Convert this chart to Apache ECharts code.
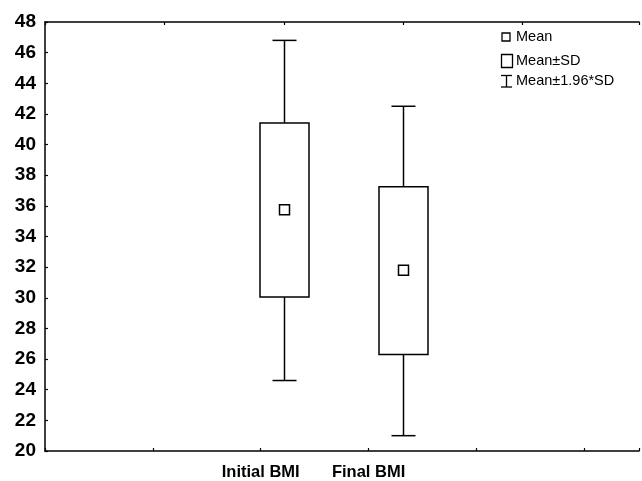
<!DOCTYPE html>
<html>
<head>
<meta charset="utf-8">
<script src="https://cdn.jsdelivr.net/npm/echarts@6/dist/echarts.min.js"></script>
<style>
html,body{margin:0;padding:0;background:#fff;}
#chart{width:642px;height:481px;}
</style>
</head>
<body>
<div id="chart"></div>
<script>
// ---- data ----
var categories = ['Initial BMI', 'Final BMI'];
var meanValues = [35.75, 31.8];
var sdLow = [30.05, 26.3];
var sdHigh = [41.4, 37.25];
var ciLow = [24.6, 21.0];
var ciHigh = [46.8, 42.5];
var yTicks = [20, 22, 24, 26, 28, 30, 32, 34, 36, 38, 40, 42, 44, 46, 48];
var bottomTickLabels = ['', '', 'Initial BMI', 'Final BMI', '', ''];
var legendLabels = ['Mean', 'Mean\u00b1SD', 'Mean\u00b11.96*SD'];

var FONT = '"Liberation Sans", Arial, sans-serif';
var boxData = categories.map(function (c, i) {
  return [i + 2, ciLow[i], sdLow[i], meanValues[i], sdHigh[i], ciHigh[i]];
});

var chart = echarts.init(document.getElementById('chart'), null, {renderer: 'canvas'});
var LW = 1.5;
var option = {
  backgroundColor: '#fff',
  animation: false,
  grid: {left: 45, right: 0, top: 22, bottom: 27, containLabel: false},
  xAxis: [
    {
      type: 'value', position: 'bottom', min: 0, max: 5.507, interval: 1,
      axisLine: {show: true, lineStyle: {color: '#000', width: LW}},
      axisTick: {show: true, inside: true, length: 3, lineStyle: {color: '#000', width: 1.2}},
      splitLine: {show: false},
      axisLabel: {
        show: true, margin: 13, color: '#000', fontSize: 16.5, fontWeight: 'bold', fontFamily: FONT,
        formatter: function (v) { var k = Math.round(v); return Math.abs(v - k) < 1e-6 ? (bottomTickLabels[k] || '') : ''; }
      }
    },
    {
      type: 'value', position: 'top', min: 0, max: 4.975, interval: 1,
      axisLine: {show: true, lineStyle: {color: '#000', width: LW}},
      axisTick: {show: true, inside: true, length: 3, lineStyle: {color: '#000', width: 1.2}},
      splitLine: {show: false},
      axisLabel: {show: false}
    }
  ],
  yAxis: {
    type: 'value', min: yTicks[0], max: yTicks[yTicks.length - 1], interval: 2,
    axisLine: {show: true, lineStyle: {color: '#000', width: LW}},
    axisTick: {show: true, inside: true, length: 3, lineStyle: {color: '#000', width: 1.2}},
    splitLine: {show: false},
    axisLabel: {margin: 9, color: '#000', fontSize: 19, fontWeight: 'bold', fontFamily: FONT}
  },
  series: [{
    type: 'custom',
    xAxisIndex: 1,
    yAxisIndex: 0,
    encode: {x: 0, y: [1, 2, 3, 4, 5]},
    data: boxData,
    renderItem: function (params, api) {
      var x = api.value(0);
      var pLo = api.coord([x, api.value(1)]);
      var pBL = api.coord([x, api.value(2)]);
      var pM = api.coord([x, api.value(3)]);
      var pBH = api.coord([x, api.value(4)]);
      var pHi = api.coord([x, api.value(5)]);
      var cx = Math.round(pM[0]) + 0.5;
      var hb = 24.5, hc = 12, hm = 5;
      var st = {stroke: '#000', lineWidth: LW, fill: null};
      return {
        type: 'group',
        children: [
          {type: 'line', shape: {x1: cx, y1: pHi[1], x2: cx, y2: pBH[1]}, style: st},
          {type: 'line', shape: {x1: cx - hc, y1: pHi[1], x2: cx + hc, y2: pHi[1]}, style: st},
          {type: 'line', shape: {x1: cx, y1: pBL[1], x2: cx, y2: pLo[1]}, style: st},
          {type: 'line', shape: {x1: cx - hc, y1: pLo[1], x2: cx + hc, y2: pLo[1]}, style: st},
          {type: 'rect', shape: {x: cx - hb, y: pBH[1], width: 2 * hb, height: pBL[1] - pBH[1]}, style: {stroke: '#000', lineWidth: LW, fill: 'rgba(0,0,0,0)'}},
          {type: 'rect', shape: {x: cx - hm, y: pM[1] - hm, width: 2 * hm, height: 2 * hm}, style: {stroke: '#000', lineWidth: LW, fill: '#fff'}}
        ]
      };
    }
  }],
  graphic: [
    {type: 'rect', shape: {x: 502, y: 33, width: 8, height: 8}, style: {stroke: '#000', lineWidth: 1.3, fill: '#fff'}},
    {type: 'text', x: 516, y: 37, style: {text: legendLabels[0], font: '14.5px ' + FONT, fill: '#000', verticalAlign: 'middle'}},
    {type: 'rect', shape: {x: 501.5, y: 54.5, width: 11, height: 13}, style: {stroke: '#000', lineWidth: 1.3, fill: '#fff'}},
    {type: 'text', x: 516, y: 61, style: {text: legendLabels[1], font: '14.5px ' + FONT, fill: '#000', verticalAlign: 'middle'}},
    {type: 'line', shape: {x1: 501, y1: 75.5, x2: 512, y2: 75.5}, style: {stroke: '#000', lineWidth: 1.3}},
    {type: 'line', shape: {x1: 506.5, y1: 75.5, x2: 506.5, y2: 87}, style: {stroke: '#000', lineWidth: 1.3}},
    {type: 'line', shape: {x1: 501, y1: 87, x2: 512, y2: 87}, style: {stroke: '#000', lineWidth: 1.3}},
    {type: 'text', x: 516, y: 80.5, style: {text: legendLabels[2], font: '14.5px ' + FONT, fill: '#000', verticalAlign: 'middle'}}
  ]
};
chart.setOption(option);
</script>
</body>
</html>
